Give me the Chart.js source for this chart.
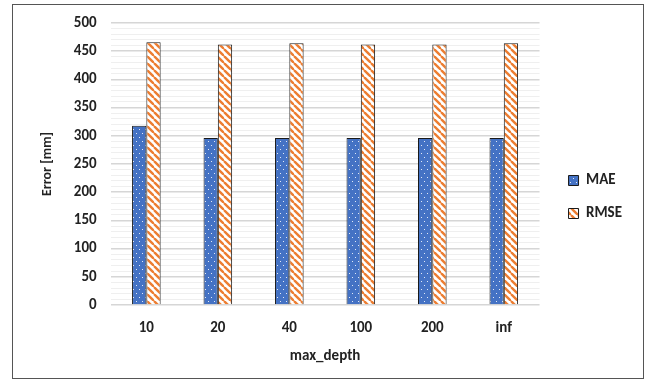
<!DOCTYPE html>
<html>
<head>
<meta charset="utf-8">
<script src="https://cdn.jsdelivr.net/npm/chart.js@4"></script>
<style>
  html, body { margin: 0; padding: 0; background: #fff; }
  #wrap { position: relative; width: 653px; height: 384px; }
  #frame { position: absolute; left: 12px; top: 4px; width: 632px; height: 375px; border: 1.5px solid #555; box-sizing: border-box; pointer-events: none; }
</style>
</head>
<body>
<div id="wrap">
  <canvas id="chart" width="653" height="384"></canvas>
  <div id="frame"></div>
</div>
<script>
/* data */
const categories = ["10", "20", "40", "100", "200", "inf"];
const maeValues = [318, 296, 296, 296, 296, 296];
const rmseValues = [466, 462, 464, 462, 462, 464];

/* fill patterns: dotted blue, striped orange */
function dotPattern() {
    const c = document.createElement("canvas");
    c.width = 6; c.height = 8;
    const g = c.getContext("2d");
    g.fillStyle = "#4472C4";
    g.fillRect(0, 0, 6, 8);
    g.fillStyle = "rgba(255,255,255,0.85)";
    g.fillRect(1, 1, 1, 1);
    g.fillRect(4, 5, 1, 1);
    return g.createPattern(c, "repeat");
}

function stripePattern() {
    const s = 7;
    const c = document.createElement("canvas");
    c.width = s; c.height = s;
    const g = c.getContext("2d");
    g.fillStyle = "#fff";
    g.fillRect(0, 0, s, s);
    g.strokeStyle = "#ED7D31";
    g.lineWidth = 2.4;
    [-s, 0, s].forEach(o => {
        g.beginPath();
        g.moveTo(o, 0);
        g.lineTo(o + s, s);
        g.stroke();
    });
    return g.createPattern(c, "repeat");
}

/* nudge the legend a bit away from the plot */
const legendShift = {
    id: "legendShift",
    afterInit(chart) {
        const lg = chart.legend;
        if (!lg) return;
        const draw = lg.draw.bind(lg);
        lg.draw = function () {
            this.ctx.save();
            this.ctx.translate(11, 5);
            draw();
            this.ctx.restore();
        };
    }
};

const fontFamily = "Carlito, Calibri, Lato, sans-serif";
const tickFont = { family: fontFamily, size: 15, weight: "bold" };

new Chart(document.getElementById("chart"), {
    type: "bar",
    data: {
        labels: categories,
        datasets: [
            {
                label: "MAE",
                data: maeValues,
                backgroundColor: dotPattern(),
                borderColor: "#1a1a1a",
                borderWidth: 1,
                barPercentage: 1,
                categoryPercentage: 0.4
            },
            {
                label: "RMSE",
                data: rmseValues,
                backgroundColor: stripePattern(),
                borderColor: "#1a1a1a",
                borderWidth: 1,
                barPercentage: 1,
                categoryPercentage: 0.4
            }
        ]
    },
    plugins: [legendShift],
    options: {
        responsive: false,
        animation: false,
        layout: { padding: { left: 35, top: 15, right: 32, bottom: 15 } },
        plugins: {
            legend: {
                position: "right",
                labels: {
                    boxWidth: 10,
                    boxHeight: 10,
                    padding: 18,
                    color: "#222",
                    font: { family: fontFamily, size: 15, weight: "bold" }
                }
            },
            tooltip: { enabled: false }
        },
        scales: {
            x: {
                grid: { display: false },
                border: { display: false },
                ticks: { color: "#222", font: tickFont, padding: 6 },
                title: {
                    display: true,
                    text: "max_depth",
                    color: "#222",
                    font: { family: fontFamily, size: 15, weight: "bold" },
                    padding: { top: 4 }
                }
            },
            y: {
                min: 0,
                max: 500,
                border: { display: false },
                ticks: {
                    stepSize: 10,
                    autoSkip: false,
                    color: "#222",
                    font: tickFont,
                    padding: 14,
                    callback: v => (v % 50 === 0 ? v : "")
                },
                grid: {
                    drawTicks: false,
                    color: ctx => (ctx.tick && ctx.tick.value % 50 === 0 ? "#d6d6d6" : "#efefef"),
                    lineWidth: ctx => (ctx.tick && ctx.tick.value % 50 === 0 ? 1.5 : 1)
                },
                title: {
                    display: true,
                    text: "Error [mm]",
                    color: "#222",
                    font: { family: fontFamily, size: 14, weight: "bold" },
                    padding: { bottom: 4 }
                }
            }
        }
    }
});
</script>
</body>
</html>
